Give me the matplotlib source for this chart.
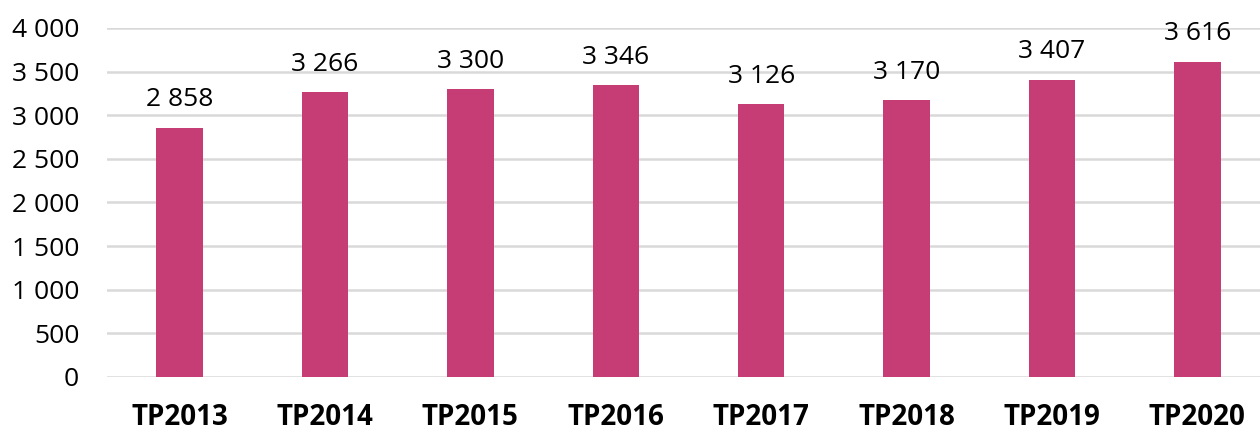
import matplotlib
matplotlib.use("Agg")
import matplotlib.pyplot as plt
from matplotlib.ticker import FuncFormatter, MultipleLocator

categories = ["TP2013", "TP2014", "TP2015", "TP2016", "TP2017", "TP2018", "TP2019", "TP2020"]
values = [2858, 3266, 3300, 3346, 3126, 3170, 3407, 3616]

plt.rcParams['font.family'] = ['Open Sans', 'DejaVu Sans']

W, H = 1260, 430
fig = plt.figure(figsize=(W / 100, H / 100), dpi=100)
left, right = 107, 1270
bottom, top = H - 377, H - 28
ax = fig.add_axes([left / W, bottom / H, (right - left) / W, (top - bottom) / H])

x = list(range(len(categories)))
bars = ax.bar(x, values, width=0.32, color="#C63C74", zorder=3)
ax.set_xlim(-0.5, len(categories) - 0.5)
ax.set_ylim(0, 4000)
ax.yaxis.set_major_locator(MultipleLocator(500))
fmt = lambda v, p: f"{int(v):,}".replace(",", " ")
ax.yaxis.set_major_formatter(FuncFormatter(fmt))
ax.grid(axis="y", color="#D9D9D9", linewidth=1.8, zorder=0)
ax.set_axisbelow(True)
for s in ax.spines.values():
    s.set_visible(False)
ax.tick_params(axis="both", length=0, colors="black")
ax.tick_params(axis="y", pad=20, labelsize=19)
ax.tick_params(axis="x", pad=19, labelsize=20)
ax.set_xticks(x)
ax.set_xticklabels(categories, fontweight="bold")

for xi, v in zip(x, values):
    ax.annotate(fmt(v, None), (xi, v), xytext=(0, 11), textcoords="offset points",
                ha="center", va="bottom", fontsize=19, color="black", clip_on=False)

fig.savefig("out.png", dpi=100)
